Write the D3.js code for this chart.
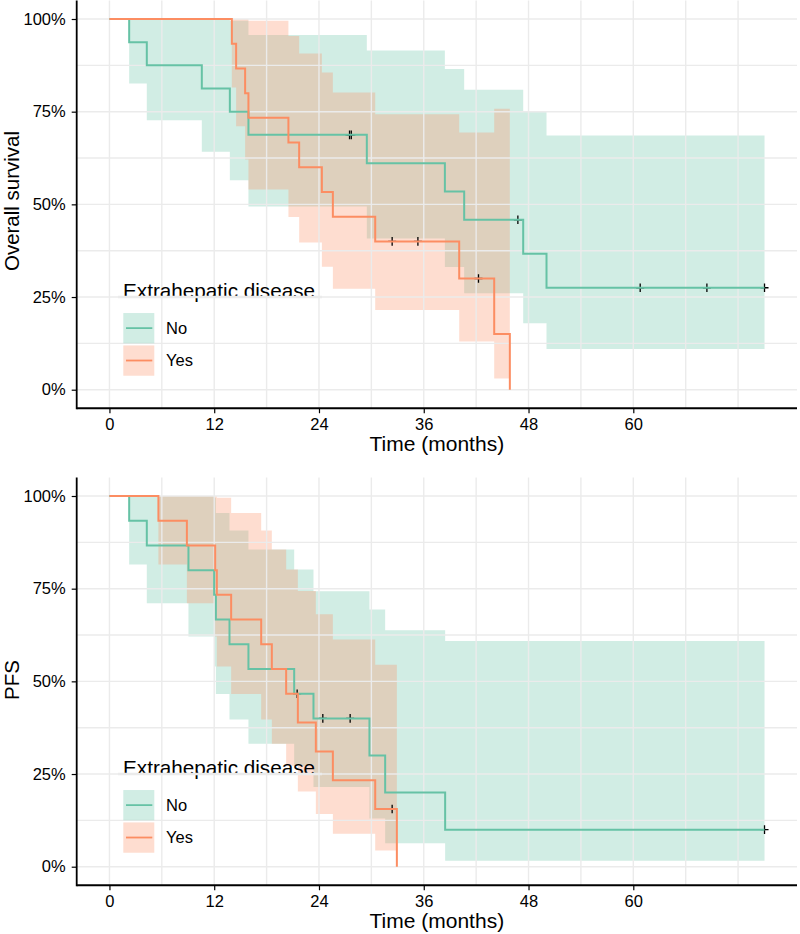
<!DOCTYPE html>
<html><head><meta charset="utf-8">
<script src="https://cdn.jsdelivr.net/npm/d3@7/dist/d3.min.js"></script>
<style>body{margin:0;background:#fff}</style>
</head><body>
<svg id="c" width="800" height="934"></svg>
<script>
// ---------- data ----------
const groups = ["No", "Yes"];
const groupColors = ["#66C2A5", "#FC8D62"];
const legendTitle = "Extrahepatic disease";
const xTicks = [0, 12, 24, 36, 48, 60];
const yTicks = [0, 0.25, 0.5, 0.75, 1];
const xTitle = "Time (months)";
const yTitles = ["Overall survival", "PFS"];

// Overall survival, group "No"
const osNoTime  = [0, 2.26, 4.28, 10.58, 13.79, 15.92, 29.48, 38.42, 40.63, 47.39, 50.06];
const osNoSurv  = [1, .9375, .875, .8125, .75, .6875, .6111, .5347, .4583, .3667, .275];
const osNoUpper = [1, 1, 1, 1, .995, .957, .915, .865, .809, .751, .686];
const osNoLower = [1, .826, .727, .642, .565, .494, .408, .331, .260, .179, .110];
const osNoCensor = [27.5, 27.7, 46.78, 60.79, 68.43, 75.03];
const osNoEnd = 75.03;

// Overall survival, group "Yes"
const osYesTime  = [0, 14.02, 14.51, 15.54, 15.92, 20.50, 21.73, 24.33, 25.59, 30.44, 40.06, 44.07, 45.86];
const osYesSurv  = [1, .9333, .8667, .8, .7333, .6667, .6, .5333, .4667, .4, .3, .15, 0];
const osYesUpper = [1, 1, 1, 1, .995, .954, .907, .856, .802, .743, .694, .758, null];
const osYesLower = [1, .815, .711, .621, .540, .466, .397, .332, .272, .215, .130, .030, null];
const osYesCensor = [32.38, 35.33, 42.27];
const osYesEnd = 45.86;

// PFS, group "No"
const pfsNoTime  = [0, 2.26, 4.28, 9.05, 11.99, 12.19, 13.75, 15.92, 21.16, 23.37, 29.78, 31.58, 38.45];
const pfsNoSurv  = [1, .9333, .8667, .8, .7333, .6667, .6, .5333, .4667, .4, .3, .2, .1];
const pfsNoUpper = [1, 1, 1, 1, .995, .954, .907, .856, .802, .743, .694, .638, .609];
const pfsNoLower = [1, .815, .711, .621, .540, .466, .397, .332, .272, .215, .130, .063, .016];
const pfsNoCensor = [24.44, 27.57, 75.03];
const pfsNoEnd = 75.03;

// PFS, group "Yes"
const pfsYesTime  = [0, 5.61, 8.87, 12.11, 12.30, 13.94, 17.38, 18.60, 20.24, 21.58, 23.64, 25.59, 30.44, 32.92];
const pfsYesSurv  = [1, .9333, .8667, .8, .7333, .6667, .6, .5333, .4667, .3889, .3111, .2333, .1556, 0];
const pfsYesUpper = [1, 1, 1, 1, .995, .954, .907, .856, .802, .744, .681, .613, .545, null];
const pfsYesLower = [1, .815, .711, .621, .540, .466, .397, .332, .272, .203, .142, .089, .044, null];
const pfsYesCensor = [21.5, 32.38];
const pfsYesEnd = 32.92;

// ---------- drawing ----------
const FONT = "'Liberation Sans', Arial, Helvetica, sans-serif";
const svg = d3.select("#c");
svg.append("rect").attr("width", 800).attr("height", 934).attr("fill", "#fff");

const panels = [
  { y0: 389.7, y1: 19, yTitle: yTitles[0], yTitleY: 201,
    series: [
      {time: osNoTime, surv: osNoSurv, upper: osNoUpper, lower: osNoLower, censor: osNoCensor, end: osNoEnd},
      {time: osYesTime, surv: osYesSurv, upper: osYesUpper, lower: osYesLower, censor: osYesCensor, end: osYesEnd}
    ]},
  { y0: 866.7, y1: 496, yTitle: yTitles[1], yTitleY: 680,
    series: [
      {time: pfsNoTime, surv: pfsNoSurv, upper: pfsNoUpper, lower: pfsNoLower, censor: pfsNoCensor, end: pfsNoEnd},
      {time: pfsYesTime, surv: pfsYesSurv, upper: pfsYesUpper, lower: pfsYesLower, censor: pfsYesCensor, end: pfsYesEnd}
    ]}
];

const x = d3.scaleLinear().domain([-3.75, 78.75]).range([76.7, 797]);
const gridColor = "#EBEBEB";

panels.forEach(p => {
  const y = d3.scaleLinear().domain([0, 1]).range([p.y0, p.y1]);
  const axisY = y(-0.05);
  const topY = y(1.05);
  const g = svg.append("g");

  // confidence ribbons
  p.series.forEach((s, i) => {
    const pts = s.time.map((t, j) => ({t, lo: s.lower[j], hi: s.upper[j]})).filter(d => d.hi != null);
    const last = pts[pts.length - 1];
    if (s.end > last.t) pts.push({t: s.end, lo: last.lo, hi: last.hi});
    g.append("path")
      .attr("d", d3.area().curve(d3.curveStepAfter).x(d => x(d.t)).y0(d => y(d.lo)).y1(d => y(d.hi))(pts))
      .attr("fill", groupColors[i]).attr("fill-opacity", 0.3);
  });

  // grid
  const gx = d3.range(0, 73, 6), gy = d3.range(0, 1.0001, 0.125);
  g.selectAll(null).data(gx).join("line")
    .attr("x1", d => x(d)).attr("x2", d => x(d)).attr("y1", topY).attr("y2", axisY)
    .attr("stroke", gridColor).attr("stroke-width", 1.4);
  g.selectAll(null).data(gy).join("line")
    .attr("x1", x(-3.75)).attr("x2", x(78.75)).attr("y1", d => y(d)).attr("y2", d => y(d))
    .attr("stroke", gridColor).attr("stroke-width", 1.4);

  // censor marks (under the curves, as in the reference)
  const survAt = (s, t) => { let v = s.surv[0]; s.time.forEach((tt, j) => { if (tt <= t) v = s.surv[j]; }); return v; };
  p.series.forEach((s, i) => {
    s.censor.forEach(t => {
      const cx = x(t), cy = y(survAt(s, t));
      g.append("path").attr("d", `M${cx - 4},${cy}H${cx + 4}M${cx},${cy - 4.3}V${cy + 4.3}`)
        .attr("stroke", "#000").attr("stroke-width", 1.3).attr("fill", "none");
    });
  });

  // curves
  p.series.forEach((s, i) => {
    const pts = s.time.map((t, j) => ({t, v: s.surv[j]}));
    if (s.end > s.time[s.time.length - 1]) pts.push({t: s.end, v: s.surv[s.surv.length - 1]});
    g.append("path")
      .attr("d", d3.line().curve(d3.curveStepAfter).x(d => x(d.t)).y(d => y(d.v))(pts))
      .attr("fill", "none").attr("stroke", groupColors[i]).attr("stroke-width", 2);
  });

  // axes
  const xa = g.append("g").attr("transform", `translate(0,${axisY})`)
    .call(d3.axisBottom(x).tickValues(xTicks).tickSize(5).tickPadding(5));
  const ya = g.append("g").attr("transform", `translate(${x(-3.75)},0)`)
    .call(d3.axisLeft(y).tickValues(yTicks).tickFormat(d => Math.round(d * 100) + "%").tickSize(5).tickPadding(6));
  [xa, ya].forEach(a => {
    a.select(".domain").remove();
    a.selectAll(".tick line").attr("stroke", "#000").attr("stroke-width", 1.2);
    a.selectAll(".tick text").attr("fill", "#000").style("font-family", FONT).style("font-size", "16.5px");
  });
  g.append("line").attr("x1", x(-3.75)).attr("x2", x(78.75)).attr("y1", axisY).attr("y2", axisY)
    .attr("stroke", "#000").attr("stroke-width", 1.8);
  g.append("line").attr("x1", x(-3.75)).attr("x2", x(-3.75)).attr("y1", topY).attr("y2", axisY + 0.9)
    .attr("stroke", "#000").attr("stroke-width", 1.8);

  // axis titles
  g.append("text").attr("x", (x(-3.75) + x(78.75)) / 2).attr("y", axisY + 42.5)
    .attr("text-anchor", "middle").style("font-family", FONT).style("font-size", "21px").text(xTitle);
  g.append("text").attr("transform", `translate(19,${p.yTitleY}) rotate(-90)`)
    .attr("text-anchor", "middle").style("font-family", FONT).style("font-size", "20.5px").text(p.yTitle);

  // legend
  const y25 = y(0.25);
  const lg = g.append("g");
  lg.append("text").attr("x", 123).attr("y", y25 + 1.2).style("font-family", FONT).style("font-size", "20.7px")
    .attr("fill", "#000").text(legendTitle);
  lg.append("line").attr("x1", 118).attr("x2", 322).attr("y1", y25).attr("y2", y25)
    .attr("stroke", gridColor).attr("stroke-width", 2.6);
  groups.forEach((name, i) => {
    const ky = y25 + 16 + i * 32.4;
    lg.append("rect").attr("x", 123.3).attr("y", ky).attr("width", 31).attr("height", 30.3)
      .attr("fill", groupColors[i]).attr("fill-opacity", 0.3);
    lg.append("line").attr("x1", 126).attr("x2", 152.3).attr("y1", ky + 15.1).attr("y2", ky + 15.1)
      .attr("stroke", groupColors[i]).attr("stroke-width", 1.8);
    lg.append("text").attr("x", 166).attr("y", ky + 15.1).attr("dy", "0.36em")
      .style("font-family", FONT).style("font-size", "16.5px").attr("fill", "#000").text(name);
  });
});
</script>
</body></html>
